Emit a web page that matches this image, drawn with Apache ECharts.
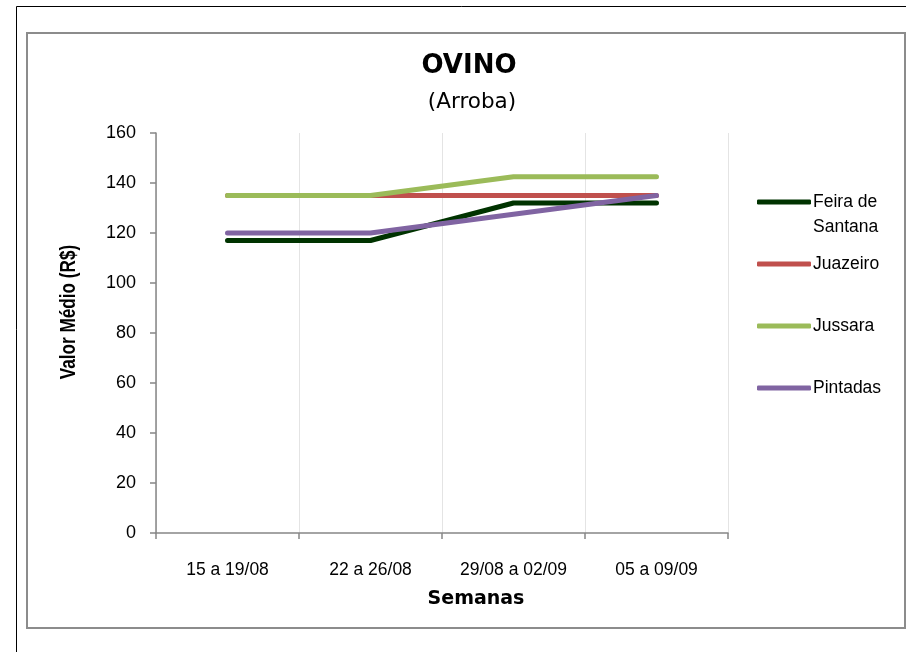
<!DOCTYPE html>
<html>
<head>
<meta charset="utf-8">
<script src="https://cdn.jsdelivr.net/npm/echarts@6/dist/echarts.min.js"></script>
<style>
html,body{margin:0;padding:0;background:#fff;}
#c{width:906px;height:652px;}
</style>
</head>
<body>
<div id="c"></div>
<script>
const categories = ['15 a 19/08', '22 a 26/08', '29/08 a 02/09', '05 a 09/09'];
const feiraDeSantana = [117, 117, 132, 132];
const juazeiro = [135, 135, 135, 135];
const jussara = [135, 135, 142.5, 142.5];
const pintadas = [120, 120, 127.5, 135];
const yTicks = {min: 0, max: 160, interval: 20};

const seriesDefs = [
  {name: 'Feira de Santana', data: feiraDeSantana, color: '#003300'},
  {name: 'Juazeiro', data: juazeiro, color: '#C0504D'},
  {name: 'Jussara', data: jussara, color: '#9BBB59'},
  {name: 'Pintadas', data: pintadas, color: '#8064A2'}
];

const FONT = '"Liberation Sans", Arial, sans-serif';
const chart = echarts.init(document.getElementById('c'), null, {renderer: 'canvas'});

const legendTops = [164.5, 251.5, 313.5, 375.5];

const option = {
  animation: false,
  backgroundColor: '#ffffff',
  title: [
    {text: 'OVINO', left: 469, top: 53, textAlign: 'center', padding: 0,
     textStyle: {fontFamily: '"DejaVu Sans", Verdana, sans-serif', fontWeight: 'bold', fontSize: 26, lineHeight: 26, color: '#000'}},
    {text: '(Arroba)', left: 472, top: 91, textAlign: 'center', padding: 0,
     textStyle: {fontFamily: '"DejaVu Sans", Verdana, sans-serif', fontWeight: 'normal', fontSize: 21.5, lineHeight: 22, color: '#000'}}
  ],
  legend: seriesDefs.map((s, i) => ({
    data: [{name: s.name, icon: 'roundRect', itemStyle: {color: s.color, borderWidth: 0}}],
    orient: 'vertical',
    left: 757,
    top: legendTops[i],
    padding: 0,
    itemWidth: 54,
    itemHeight: 5,
    selectedMode: false,
    formatter: (n) => n === 'Feira de Santana' ? ' \nFeira de\nSantana' : n,
    textStyle: {fontFamily: FONT, fontSize: 17.5, lineHeight: 25, color: '#000', padding: [0,0,0,-3]}
  })),
  grid: {left: 156, right: 178, top: 133, bottom: 119, containLabel: false},
  xAxis: {
    type: 'category',
    data: categories,
    boundaryGap: true,
    axisLine: {lineStyle: {color: '#868686', width: 1.5}},
    axisTick: {show: true, interval: 0, alignWithLabel: false, length: 6, lineStyle: {color: '#868686', width: 1.5}},
    axisLabel: {interval: 0, hideOverlap: false, fontFamily: FONT, fontSize: 17.5, color: '#000', margin: 28},
    splitLine: {show: true, interval: 0, lineStyle: {color: '#e4e4e4', width: 1}}
  },
  yAxis: {
    type: 'value',
    min: yTicks.min, max: yTicks.max, interval: yTicks.interval,
    axisLine: {show: true, lineStyle: {color: '#868686', width: 1.5}},
    axisTick: {show: true, length: 6, lineStyle: {color: '#868686', width: 1.5}},
    axisLabel: {fontFamily: FONT, fontSize: 18, color: '#000', margin: 20},
    splitLine: {show: false}
  },
  series: seriesDefs.map(s => ({
    name: s.name,
    type: 'line',
    data: s.data,
    symbol: 'none',
    showSymbol: false,
    color: s.color,
    lineStyle: {color: s.color, width: 5, cap: 'round', join: 'round'},
    itemStyle: {color: s.color}
  })),
  graphic: [
    {type: 'line', shape: {x1: 16.5, y1: 6.5, x2: 906, y2: 6.5}, style: {stroke: '#000', lineWidth: 1}, silent: true},
    {type: 'line', shape: {x1: 16.5, y1: 6.5, x2: 16.5, y2: 652}, style: {stroke: '#000', lineWidth: 1}, silent: true},
    {type: 'rect', shape: {x: 27, y: 33, width: 878, height: 595}, style: {fill: 'none', stroke: '#8c8c8c', lineWidth: 2}, silent: true, z: -1},
    {type: 'text', x: 69, y: 312, rotation: Math.PI / 2, scaleX: 0.78,
     style: {text: 'Valor Médio (R$)', fontFamily: FONT, fontWeight: 'bold', fontSize: 22, fill: '#000', align: 'center', verticalAlign: 'middle'}},
    {type: 'text', x: 476, y: 599,
     style: {text: 'Semanas', fontFamily: '"DejaVu Sans", Verdana, sans-serif', fontWeight: 'bold', fontSize: 19, fill: '#000', align: 'center', verticalAlign: 'middle'}}
  ]
};
chart.setOption(option);
</script>
</body>
</html>
